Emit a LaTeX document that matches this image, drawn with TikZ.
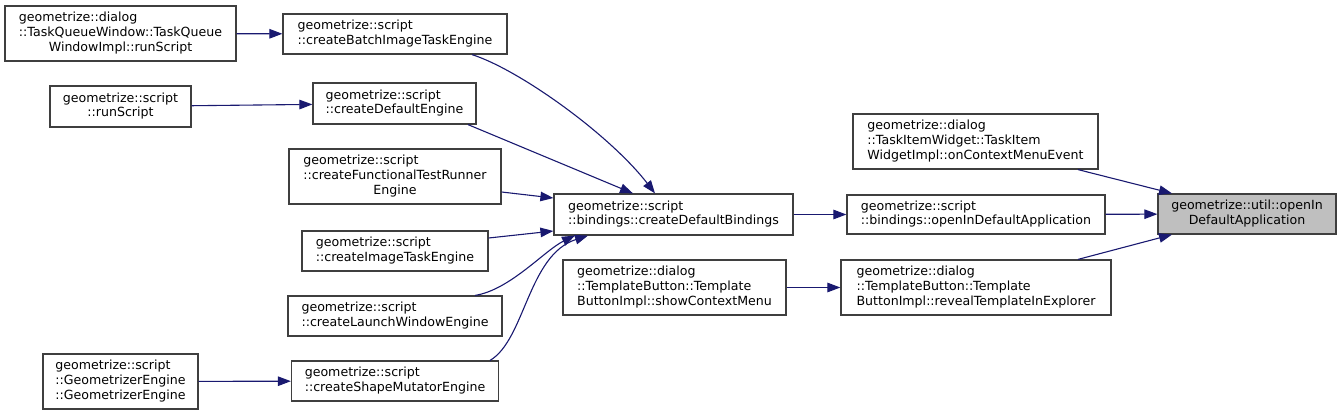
\documentclass[tikz,border=0pt]{standalone}
\usepackage{fontspec}
\setmainfont{DejaVu Sans}
\usetikzlibrary{arrows.meta, calc}

\definecolor{edgeblue}{HTML}{191970}
\definecolor{boxline}{HTML}{3F3F3F}
\definecolor{selfill}{HTML}{BFBFBF}

\newcommand{\fnl}[2]{\begin{tabular}{@{}l@{}}#1\\\multicolumn{1}{@{}c@{}}{#2}\end{tabular}}

\begin{document}
\begin{tikzpicture}[
        x=1pt, y=-1pt,
        fn/.style={rectangle, draw=boxline, line width=1.2pt, inner sep=0pt, fill=white,
                   font=\fontsize{12.6}{14.6}\selectfont},
        fnsel/.style={fn, fill=selfill},
        call/.style={-{Triangle[length=13pt, width=9.5pt]}, draw=edgeblue, line width=1.1pt}
        ]
        \useasboundingbox (0,0) rectangle (1341,415);

        \node (tqw) [fn, minimum width=231, minimum height=55] at (120.5,33.5) {\fnl{geometrize::dialog\\::TaskQueueWindow::TaskQueue}{WindowImpl::runScript}};
        \node (runscr) [fn, minimum width=141, minimum height=41] at (120.5,106.5) {\fnl{geometrize::script}{::runScript}};
        \node (geoeng) [fn, minimum width=155, minimum height=55] at (120.5,381.5) {\fnl{geometrize::script\\::GeometrizerEngine}{::GeometrizerEngine}};

        \node (batch) [fn, minimum width=224, minimum height=40] at (395,34) {\fnl{geometrize::script}{::createBatchImageTaskEngine}};
        \node (defeng) [fn, minimum width=163, minimum height=41] at (394.5,103.5) {\fnl{geometrize::script}{::createDefaultEngine}};
        \node (functest) [fn, minimum width=212, minimum height=55] at (395,176.5) {\fnl{geometrize::script\\::createFunctionalTestRunner}{Engine}};
        \node (imgtask) [fn, minimum width=186, minimum height=40] at (395,251) {\fnl{geometrize::script}{::createImageTaskEngine}};
        \node (launch) [fn, minimum width=214, minimum height=40] at (395,316) {\fnl{geometrize::script}{::createLaunchWindowEngine}};
        \node (shapemut) [fn, minimum width=207, minimum height=40] at (395,381) {\fnl{geometrize::script}{::createShapeMutatorEngine}};

        \node (cdb) [fn, minimum width=239, minimum height=41] at (673.5,214.5) {\fnl{geometrize::script}{::bindings::createDefaultBindings}};
        \node (showctx) [fn, minimum width=223, minimum height=55] at (674.5,287.5) {\fnl{geometrize::dialog\\::TemplateButton::Template}{ButtonImpl::showContextMenu}};

        \node (taskitem) [fn, minimum width=245, minimum height=55] at (975.5,141.5) {\fnl{geometrize::dialog\\::TaskItemWidget::TaskItem}{WidgetImpl::onContextMenuEvent}};
        \node (openbind) [fn, minimum width=258, minimum height=39] at (976,214.5) {\fnl{geometrize::script}{::bindings::openInDefaultApplication}};
        \node (reveal) [fn, minimum width=270, minimum height=55] at (976,287.5) {\fnl{geometrize::dialog\\::TemplateButton::Template}{ButtonImpl::revealTemplateInExplorer}};

        \node (util) [fnsel, minimum width=178, minimum height=40] at (1247,214) {\fnl{geometrize::util::openIn}{DefaultApplication}};

        \draw [call] (tqw) -- (batch);
        \draw [call] (runscr) -- (defeng);
        \draw [call] (geoeng) -- (shapemut);

        \draw [call] ([xshift=77]batch.south) .. controls (520,70) and (610,135) .. ([xshift=-18.5]cdb.north);
        \draw [call] ([xshift=73.5]defeng.south) -- ([xshift=-40.5]cdb.north);
        \draw [call] ([yshift=-15.5]functest.east) -- ([yshift=16.5]cdb.west);
        \draw [call] ([yshift=13]imgtask.east) -- ([yshift=-16.5]cdb.west);
        \draw [call] ([xshift=80]launch.north) .. controls (510,290) and (545,250) .. ([xshift=-98.5]cdb.south);
        \draw [call] ([xshift=95]shapemut.north) .. controls (525,340) and (528,255) .. ([xshift=-85.5]cdb.south);

        \draw [call] (cdb) -- (openbind);
        \draw [call] (showctx) -- (reveal);

        \draw [call] ([xshift=102.5]taskitem.south) -- ([xshift=-75]util.north);
        \draw [call] (openbind) -- (util);
        \draw [call] ([xshift=102]reveal.north) -- ([xshift=-75]util.south);
    \end{tikzpicture}
\end{document}
